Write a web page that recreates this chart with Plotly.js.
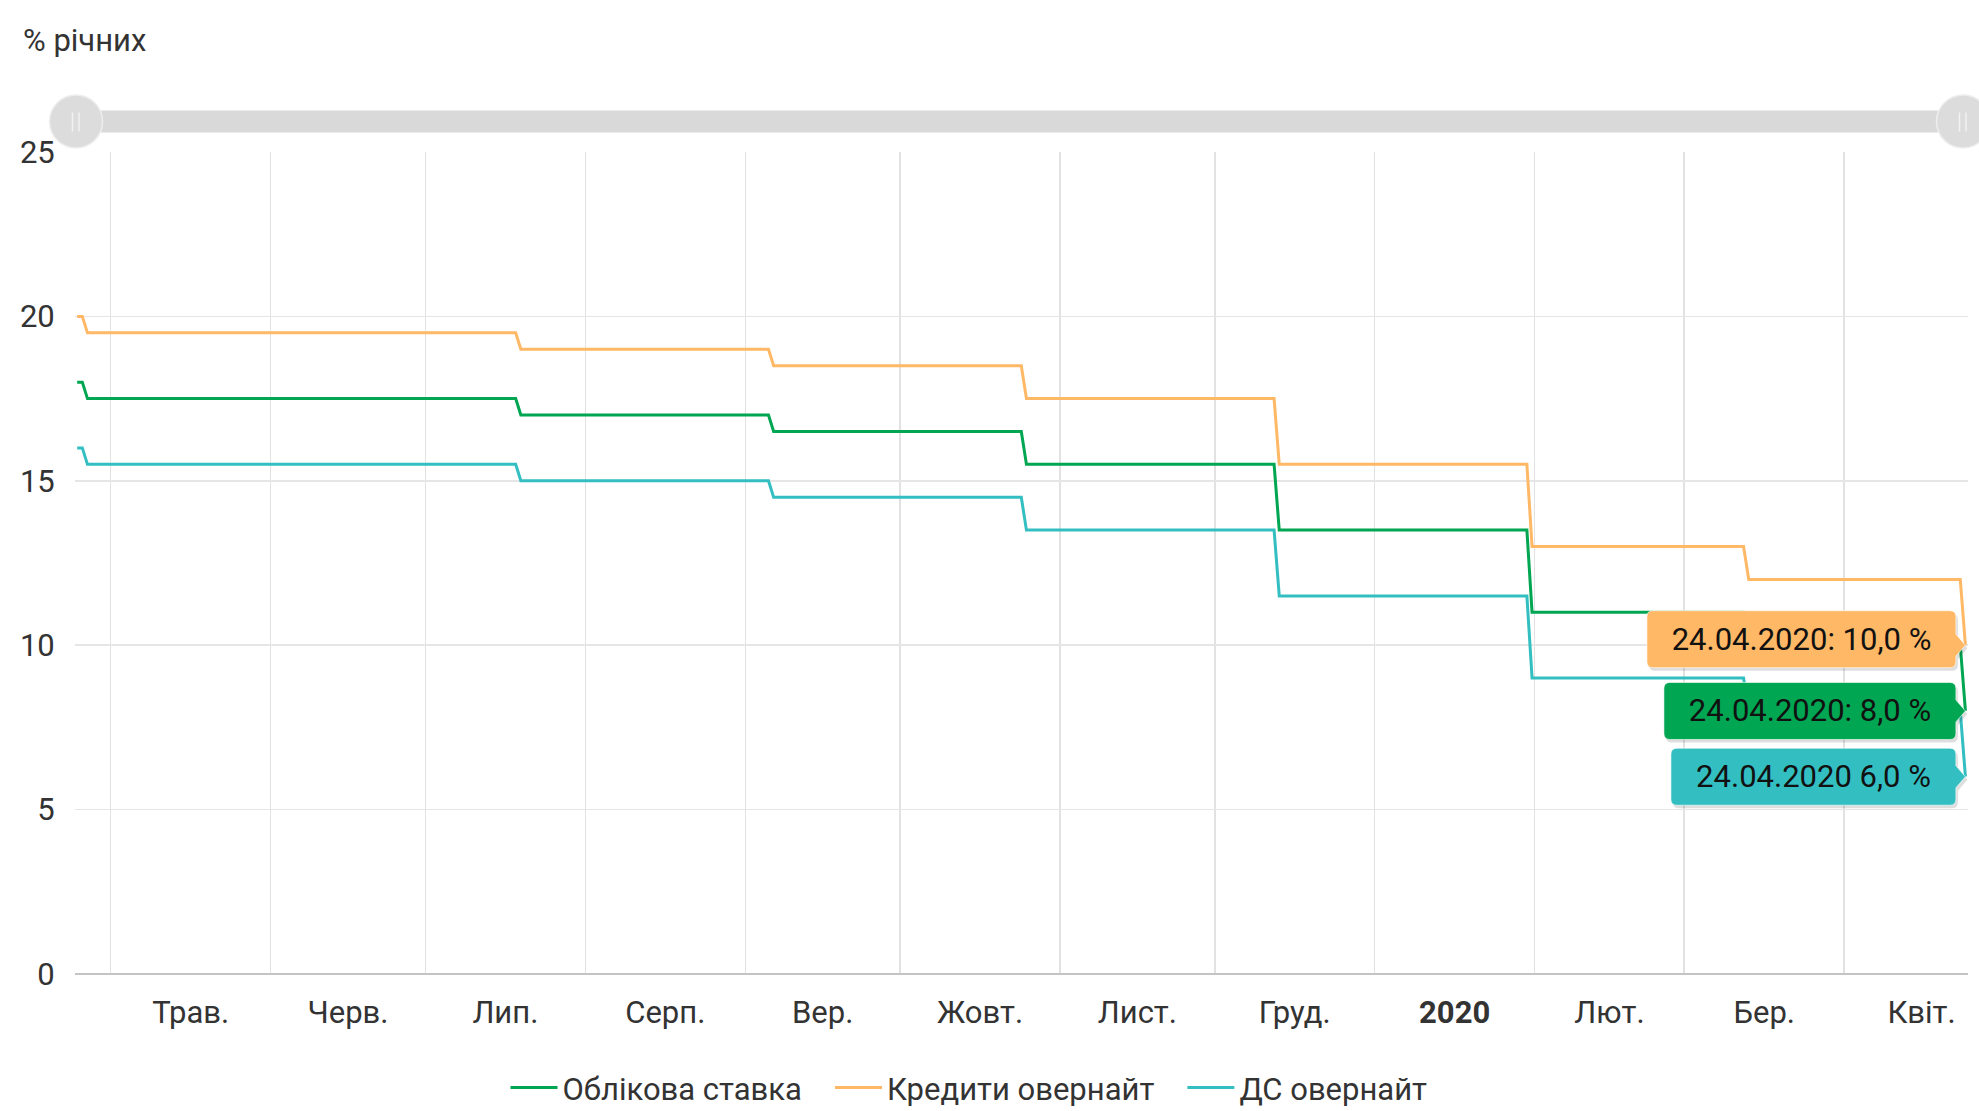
<!DOCTYPE html>
<html>
<head>
<meta charset="utf-8">
<script src="https://cdn.plot.ly/plotly-3.0.1.min.js"></script>
<style>
  html, body { margin: 0; padding: 0; background: #ffffff; }
  #chart { width: 1979px; height: 1111px; }
</style>
</head>
<body>
<div id="chart"></div>
<script>
// ---------- data ----------
const dates = ['2019-04-24','2019-04-25','2019-04-26','2019-07-18','2019-07-19','2019-09-05','2019-09-06',
  '2019-10-24','2019-10-25','2019-12-12','2019-12-13','2020-01-30','2020-01-31','2020-03-12','2020-03-13',
  '2020-04-23','2020-04-24'];
const discountRate      = [18, 18, 17.5, 17.5, 17, 17, 16.5, 16.5, 15.5, 15.5, 13.5, 13.5, 11, 11, 10, 10, 8];
const overnightLoans    = [20, 20, 19.5, 19.5, 19, 19, 18.5, 18.5, 17.5, 17.5, 15.5, 15.5, 13, 13, 12, 12, 10];
const overnightDeposits = [16, 16, 15.5, 15.5, 15, 15, 14.5, 14.5, 13.5, 13.5, 11.5, 11.5, 9, 9, 8, 8, 6];

const seriesNames = ['Облікова ставка', 'Кредити овернайт', 'ДС овернайт'];
const tooltipSeparators = [': ', ': ', ' '];

const monthStarts = ['2019-05-01','2019-06-01','2019-07-01','2019-08-01','2019-09-01','2019-10-01',
  '2019-11-01','2019-12-01','2020-01-01','2020-02-01','2020-03-01','2020-04-01'];
const monthLabelDates = ['2019-05-16 12:00','2019-06-16','2019-07-16 12:00','2019-08-16 12:00','2019-09-16',
  '2019-10-16 12:00','2019-11-16','2019-12-16 12:00','2020-01-16 12:00','2020-02-15 12:00','2020-03-16 12:00','2020-04-16'];
const monthLabels = ['Трав.','Черв.','Лип.','Серп.','Вер.','Жовт.','Лист.','Груд.','<b>2020</b>','Лют.','Бер.','Квіт.'];
const yTicks = [0, 5, 10, 15, 20, 25];

// ---------- styling ----------
const colors = ['#00a651', '#ffb866', '#33bfc1'];
const FONT = 'Roboto, "Noto Sans", Arial, sans-serif';
const FS = 31;
const TXT = '#333333';
const W = 1979, H = 1111, L = 75, R = 11, T = 151.5, B = 137;
const plotW = W - L - R, plotH = H - T - B;
const px2x = px => (px - L) / plotW;
const px2y = py => (H - B - py) / plotH;

// data points sit in the middle of their day cell
const atNoon = d => d + ' 12:00';
const xs = dates.map(atNoon);
const seriesValues = [discountRate, overnightLoans, overnightDeposits];
const legendPad = '\u00a0\u00a0\u00a0';

const traces = seriesValues.map((vals, i) => ({
  type: 'scatter', mode: 'lines',
  name: seriesNames[i] + (i < seriesNames.length - 1 ? legendPad : ''),
  x: xs, y: vals,
  line: { color: colors[i], width: 3 },
  hoverinfo: 'skip'
}));

// end-of-series value labels
const fmtDate = d => { const p = d.split('-'); return p[2] + '.' + p[1] + '.' + p[0]; };
const fmtVal = v => v.toFixed(1).replace('.', ',') + ' %';
const lastIdx = dates.length - 1;
const boxWidths = [292, 309, 285];
const boxYShift = [0, 6, 0];
const labelOrder = [1, 0, 2];
const BOX_H = 57, GAP = 9.5, RAD = 6, TIP = 11;

// rounded label box with a tip pointing to the last point (pixel offsets around it)
function calloutPath(w, yc, dx, dy) {
  const x0 = -GAP - w + dx, x1 = -GAP + dx, yt = yc + BOX_H / 2 + dy, yb = yc - BOX_H / 2 + dy, r = RAD;
  return `M ${x0 + r} ${yt} L ${x1 - r} ${yt} Q ${x1} ${yt} ${x1} ${yt - r} ` +
         `L ${x1} ${TIP + dy} L ${dx} ${dy} L ${x1} ${-TIP + dy} ` +
         `L ${x1} ${yb + r} Q ${x1} ${yb} ${x1 - r} ${yb} L ${x0 + r} ${yb} Q ${x0} ${yb} ${x0} ${yb + r} ` +
         `L ${x0} ${yt - r} Q ${x0} ${yt} ${x0 + r} ${yt} Z`;
}

const shapes = [];
labelOrder.forEach(i => {
  const base = { type: 'path', xref: 'x', yref: 'y', xsizemode: 'pixel', ysizemode: 'pixel',
    xanchor: xs[lastIdx], yanchor: seriesValues[i][lastIdx], layer: 'above', line: { width: 0 } };
  shapes.push(Object.assign({}, base, { path: calloutPath(boxWidths[i], boxYShift[i], 2, -3),
    fillcolor: 'rgba(0,0,0,0.13)' }));
  shapes.push(Object.assign({}, base, { path: calloutPath(boxWidths[i], boxYShift[i], 0, 0),
    fillcolor: colors[i], line: { color: 'rgba(255,255,255,0.6)', width: 1 } }));
});

const annotations = labelOrder.map(i => ({
  x: xs[lastIdx], y: seriesValues[i][lastIdx], xref: 'x', yref: 'y',
  text: fmtDate(dates[lastIdx]) + tooltipSeparators[i] + fmtVal(seriesValues[i][lastIdx]),
  showarrow: false, xanchor: 'right', yanchor: 'middle',
  xshift: -GAP, yshift: boxYShift[i],
  width: boxWidths[i], height: BOX_H, align: 'center', valign: 'middle',
  borderpad: 0, borderwidth: 0,
  font: { family: FONT, size: FS, color: '#111111' }
}));

// scrollbar decoration at the top
shapes.push({ type: 'rect', xref: 'paper', yref: 'paper',
  x0: px2x(76), x1: px2x(1963), y0: px2y(132), y1: px2y(110),
  fillcolor: '#d9d9d9', line: { width: 0 } });
[76, 1963].forEach(cx => {
  const r = 26.5, cy = 121;
  shapes.push({ type: 'circle', xref: 'paper', yref: 'paper',
    x0: px2x(cx - r), x1: px2x(cx + r), y0: px2y(cy + r), y1: px2y(cy - r),
    fillcolor: '#dcdcdc', line: { color: '#eeeeee', width: 1.5 } });
  [-3.5, 3].forEach(dx => {
    shapes.push({ type: 'line', xref: 'paper', yref: 'paper',
      x0: px2x(cx + dx), x1: px2x(cx + dx), y0: px2y(131), y1: px2y(112),
      line: { color: '#f2f2f2', width: 1.5 } });
  });
});

const layout = {
  width: W, height: H,
  margin: { l: L, r: R, t: T, b: B, pad: 0, autoexpand: false },
  paper_bgcolor: '#ffffff', plot_bgcolor: '#ffffff',
  font: { family: FONT, size: FS, color: TXT },
  title: { text: '% річних', x: 23 / W, xanchor: 'left', xref: 'container',
           y: 1 - 40 / H, yanchor: 'middle', yref: 'container',
           font: { family: FONT, size: FS, color: TXT } },
  showlegend: true,
  legend: { orientation: 'h', x: px2x(969), xanchor: 'center', y: px2y(1115), yanchor: 'bottom',
            itemwidth: 47,
            font: { family: FONT, size: FS, color: TXT }, bgcolor: 'rgba(0,0,0,0)' },
  xaxis: {
    type: 'date', range: ['2019-04-24 02:00', '2020-04-25 00:00'],
    tickmode: 'array', tickvals: monthLabelDates, ticktext: monthLabels,
    showgrid: false, zeroline: false, showline: false,
    ticks: 'outside', ticklen: 11, tickcolor: 'rgba(0,0,0,0)',
    tickfont: { family: FONT, size: FS, color: TXT },
    minor: { tickmode: 'array', tickvals: monthStarts, showgrid: true,
             gridcolor: '#e2e2e2', gridwidth: 1.5, ticks: '' },
    fixedrange: true
  },
  yaxis: {
    range: [0, 25], tickmode: 'array', tickvals: yTicks,
    showgrid: true, gridcolor: '#e6e6e6', gridwidth: 1.5,
    zeroline: true, zerolinecolor: '#c4c4c4', zerolinewidth: 2,
    showline: false, ticks: 'outside', ticklen: 13, tickcolor: 'rgba(0,0,0,0)',
    tickfont: { family: FONT, size: FS, color: TXT },
    fixedrange: true
  },
  annotations: annotations,
  shapes: shapes
};

Plotly.newPlot('chart', traces, layout, { displayModeBar: false, staticPlot: true });
</script>
</body>
</html>
